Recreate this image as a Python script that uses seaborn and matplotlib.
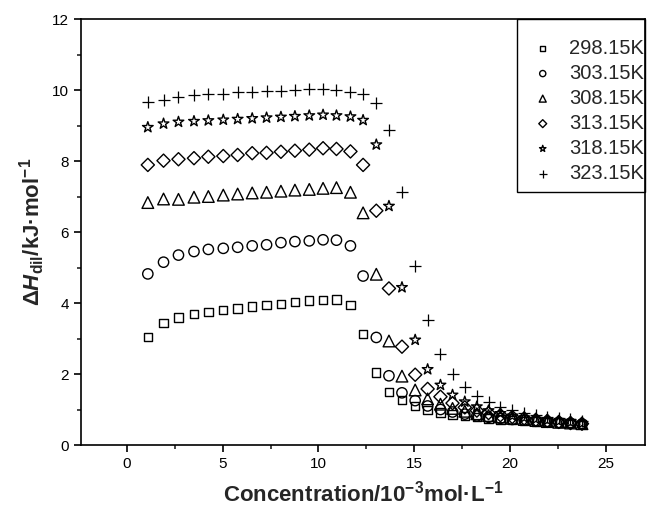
import matplotlib
matplotlib.use("Agg")
import matplotlib.pyplot as plt
from matplotlib.patches import Rectangle
import seaborn as sns
import pandas as pd

# Concentration after each injection (10^-3 mol/L)
conc = [1.09, 1.91, 2.69, 3.50, 4.25, 5.03, 5.78, 6.54, 7.29, 8.04, 8.77, 9.52,
        10.24, 10.94, 11.67, 12.33, 13.02, 13.68, 14.36, 15.05, 15.70, 16.37,
        17.00, 17.64, 18.27, 18.88, 19.50, 20.12, 20.74, 21.35, 21.95, 22.55,
        23.16, 23.76]

temperatures = ["298.15K", "303.15K", "308.15K", "313.15K", "318.15K", "323.15K"]

# Enthalpy of dilution (kJ/mol) for each temperature
dh_298 = [3.05, 3.43, 3.59, 3.69, 3.75, 3.80, 3.85, 3.90, 3.94, 3.97, 4.03, 4.07,
          4.09, 4.10, 3.94, 3.12, 2.04, 1.50, 1.27, 1.10, 0.99, 0.92, 0.86, 0.82,
          0.78, 0.75, 0.72, 0.70, 0.68, 0.66, 0.64, 0.63, 0.62, 0.60]
dh_303 = [4.82, 5.15, 5.35, 5.45, 5.51, 5.54, 5.57, 5.61, 5.64, 5.70, 5.73, 5.75,
          5.78, 5.77, 5.61, 4.76, 3.03, 1.95, 1.47, 1.25, 1.10, 1.00, 0.93, 0.87,
          0.82, 0.78, 0.75, 0.72, 0.70, 0.67, 0.65, 0.63, 0.61, 0.59]
dh_308 = [6.83, 6.93, 6.92, 6.98, 7.00, 7.04, 7.07, 7.10, 7.12, 7.15, 7.18, 7.20,
          7.23, 7.25, 7.12, 6.54, 4.81, 2.93, 1.94, 1.55, 1.30, 1.15, 1.03, 0.95,
          0.88, 0.83, 0.79, 0.75, 0.72, 0.69, 0.66, 0.64, 0.62, 0.60]
dh_313 = [7.89, 8.01, 8.05, 8.08, 8.12, 8.14, 8.17, 8.22, 8.23, 8.26, 8.29, 8.32,
          8.36, 8.34, 8.27, 7.89, 6.60, 4.41, 2.77, 1.98, 1.58, 1.36, 1.18, 1.06,
          0.97, 0.90, 0.84, 0.79, 0.75, 0.71, 0.68, 0.65, 0.62, 0.60]
dh_318 = [8.95, 9.05, 9.10, 9.12, 9.14, 9.16, 9.18, 9.20, 9.22, 9.24, 9.26, 9.28,
          9.30, 9.28, 9.25, 9.15, 8.46, 6.73, 4.44, 2.96, 2.13, 1.69, 1.41, 1.22,
          1.08, 0.97, 0.89, 0.82, 0.77, 0.73, 0.70, 0.67, 0.64, 0.61]
dh_323 = [9.65, 9.72, 9.80, 9.85, 9.88, 9.90, 9.93, 9.95, 9.97, 9.98, 10.00, 10.02,
          10.02, 10.00, 9.95, 9.90, 9.63, 8.87, 7.14, 5.04, 3.52, 2.55, 1.99, 1.64,
          1.38, 1.20, 1.08, 0.99, 0.91, 0.85, 0.80, 0.76, 0.72, 0.69]

series = [dh_298, dh_303, dh_308, dh_313, dh_318, dh_323]
marker_shapes = ["s", "o", "^", "D", "*", "+"]
marker_sizes = [36, 55, 70, 45, 65, 85]

frames = []
for temp, vals in zip(temperatures, series):
    frames.append(pd.DataFrame({"conc": conc, "dh": vals, "T": temp}))
df = pd.concat(frames, ignore_index=True)

sns.set_style("ticks")
plt.rcParams["font.family"] = ["Liberation Sans", "DejaVu Sans"]
plt.rcParams["mathtext.fontset"] = "custom"
plt.rcParams["mathtext.rm"] = "Liberation Sans:bold"
plt.rcParams["mathtext.it"] = "Liberation Sans:bold:italic"
plt.rcParams["mathtext.bf"] = "Liberation Sans:bold"

fig = plt.figure(figsize=(6.5, 5.18), dpi=100)
ax = fig.add_axes([0.1246, 0.1409, 0.8677, 0.8224])

for temp, m, s in zip(temperatures, marker_shapes, marker_sizes):
    sub = df[df["T"] == temp]
    if m == "+":
        # line-art marker: stroke it in black
        sns.scatterplot(data=sub, x="conc", y="dh", marker=m, s=s, ax=ax,
                        color="black", linewidth=0.9, label=temp,
                        legend=False, zorder=3)
    else:
        sns.scatterplot(data=sub, x="conc", y="dh", marker=m, s=s, ax=ax,
                        facecolors="none", edgecolor="black", linewidth=1.0,
                        label=temp, legend=False, zorder=3)

ax.set_xlim(-2.4, 27.05)
ax.set_ylim(0, 12)
ax.set_xticks([0, 5, 10, 15, 20, 25])
ax.set_xticks([2.5, 7.5, 12.5, 17.5, 22.5], minor=True)
ax.set_yticks([0, 2, 4, 6, 8, 10, 12])
ax.set_yticks([1, 3, 5, 7, 9, 11], minor=True)
ax.tick_params(axis="both", which="major", direction="out", length=5, width=1.2,
               labelsize=11, colors="black", top=False, right=False)
ax.tick_params(axis="both", which="minor", direction="out", length=3, width=1.2,
               top=False, right=False)
for sp in ax.spines.values():
    sp.set_linewidth(1.2)
    sp.set_color("black")
    sp.set_visible(True)

ax.set_xlabel("Concentration/10$^{-3}$mol·L$^{-1}$", fontsize=16,
              fontweight="bold", labelpad=7)
ax.set_ylabel("Δ$\\mathit{H}_{\\mathrm{dil}}$/kJ·mol$^{-1}$", fontsize=16,
              fontweight="bold", labelpad=4)

# Legend entries without their own frame; the box is drawn separately
handles, labels = ax.get_legend_handles_labels()
leg = ax.legend(handles, labels, loc="upper left",
                bbox_to_anchor=(0.8044, 0.9535), borderaxespad=0, borderpad=0,
                frameon=False, fontsize=14.5, markerscale=0.6,
                handlelength=0.8, handletextpad=0.92, labelspacing=0.3)
ax.add_patch(Rectangle((0.773, 0.594), 0.227, 0.406, transform=ax.transAxes,
                       fill=False, edgecolor="black", linewidth=1.0,
                       clip_on=False, zorder=5))

fig.savefig("out.png", dpi=100)
